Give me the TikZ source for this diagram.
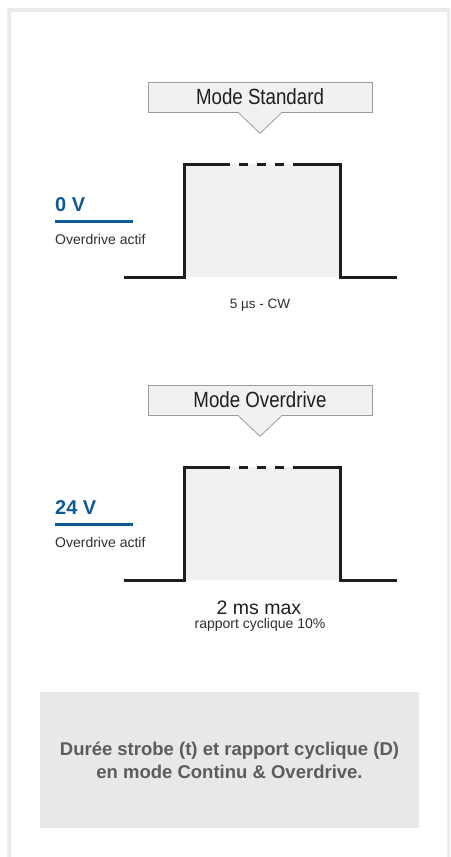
\documentclass[tikz,border=0pt]{standalone}
\usepackage{fontspec}
\setmainfont{Liberation Sans}
\newfontfamily\etroit{Liberation Sans}[FakeStretch=0.85]
\usetikzlibrary{calc}
\definecolor{bleu}{HTML}{0E5A96}
\definecolor{cadre}{HTML}{EBEBEB}
\definecolor{fond}{HTML}{F1F1F1}
\definecolor{bord}{HTML}{9B9B9B}
\definecolor{trait}{HTML}{1E1E1E}
\definecolor{legende}{HTML}{5C5C5C}
\definecolor{encart}{HTML}{E8E8E8}

\begin{document}
\begin{tikzpicture}[x=1pt, y=-1pt,
    modebox/.style={draw=bord, fill=fond, line width=0.8pt, minimum width=224pt,
                    minimum height=30pt, inner sep=0pt, text=black!88,
                    font=\etroit\fontsize{22}{24}\selectfont},
    signal/.style={trait, line width=3pt, line join=miter},
    voltlabel/.style={anchor=base west, inner sep=0pt, text=bleu,
                    font=\bfseries\fontsize{20}{22}\selectfont},
    petit/.style={anchor=base, inner sep=0pt, text=black!82,
                  font=\fontsize{14}{16}\selectfont}]
    \useasboundingbox (0,0) rectangle (450,857);
    % cadre ouvert en bas
    \draw[cadre, line width=3.5pt, line join=miter] (9,857) -- (9,9.8) -- (448.5,9.8) -- (448.5,857);

    \foreach \dy/\titre/\volt/\i in {0/Mode Standard/0 V/1, 303/Mode Overdrive/24 V/2} {
      % bulle du mode
      \node[modebox] (mode\i) at (260,97+\dy) {\titre};
      \fill[fond] ($(mode\i.south)+(-22,-0.6)$) -- ($(mode\i.south)+(0,21)$)
                  -- ($(mode\i.south)+(22,-0.6)$) -- cycle;
      \draw[bord, line width=0.8pt] ($(mode\i.south)+(-22,0)$) -- ($(mode\i.south)+(0,21)$)
                  -- ($(mode\i.south)+(22,0)$);
      % impulsion
      \fill[fond] (184,164+\dy) rectangle (340,277+\dy);
      \draw[signal] (124,277+\dy) -- (184,277+\dy) -- (184,164+\dy) -- (230,164+\dy);
      \draw[signal] (294,164+\dy) -- (340,164+\dy) -- (340,277+\dy) -- (397,277+\dy);
      \draw[signal, dash pattern=on 9pt off 9pt, dash phase=9pt] (230,164+\dy) -- (294,164+\dy);
      % tension de commande
      \node[voltlabel] (volt\i) at (55,211+\dy) {\volt};
      \draw[bleu, line width=2.5pt] (55,221.5+\dy) -- (133,221.5+\dy);
      \node[petit, anchor=base west] (actif\i) at (55,244+\dy) {Overdrive actif};
    }

    \node[petit, font=\fontsize{13.5}{16}\selectfont] (duree) at (260,308) {5 µs - CW};
    \node[anchor=base, inner sep=0pt, text=black!88, font=\fontsize{19.5}{22}\selectfont]
      (dmax) at (259,614) {2 ms max};
    \node[petit] (cycle) at (260,628) {rapport cyclique 10\%};

    \node[fill=encart, minimum width=379pt, minimum height=136pt, inner sep=0pt,
          align=center, text=legende, font=\bfseries\fontsize{18.5}{23}\selectfont]
      (encart) at (229.5,760) {Durée strobe (t) et rapport cyclique (D)\\en mode Continu \& Overdrive.};
  \end{tikzpicture}
\end{document}
